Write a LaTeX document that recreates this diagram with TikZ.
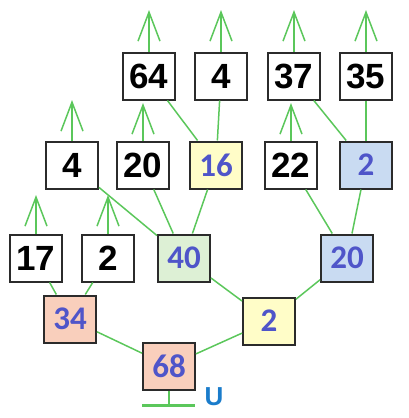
\documentclass[tikz,border=0pt]{standalone}
\usepackage{fontspec}
\usepackage{tikz}
\usetikzlibrary{arrows.meta,positioning}
\setmainfont{Liberation Sans}
\newfontfamily\numfont{Carlito}
\definecolor{linkgreen}{HTML}{5BC75B}
\definecolor{numblue}{HTML}{4F55C9}
\definecolor{ublue}{HTML}{1A7CCB}
\definecolor{boxedge}{HTML}{2B2B2B}
\definecolor{salmon}{HTML}{F9CFBC}
\definecolor{paleyellow}{HTML}{FFFDC8}
\definecolor{palegreen}{HTML}{DDF0D5}
\definecolor{paleblue}{HTML}{C9DBF2}

\begin{document}
\begin{tikzpicture}[x=1pt,y=-1pt,
    box/.style={draw=boxedge,line width=2pt,minimum width=52pt,minimum height=47pt,
      inner sep=0pt,fill=white,font=\fontsize{35}{35}\selectfont\bfseries},
    sum/.style={box,text=numblue,font=\fontsize{33}{33}\selectfont\numfont\bfseries},
    link/.style={linkgreen,line width=1.5pt},
    up/.style={link,-{Straight Barb[length=29pt,width=22pt,line width=1.5pt]}}]
  \useasboundingbox (0,0) rectangle (408,418);

  % ends of the open arrows
  \coordinate (t64) at (149,10);
  \coordinate (t4a) at (221,10);
  \coordinate (t37) at (294,10);
  \coordinate (t35) at (366,10);
  \coordinate (t4b) at (72,100);
  \coordinate (t20) at (143,103);
  \coordinate (t22) at (291,103);
  \coordinate (t17) at (36,195);
  \coordinate (t2a) at (108,195);

  % top row
  \node[box] (n64) at (149,76) {64};
  \node[box] (n4a) at (221,76) {4};
  \node[box] (n37) at (294,76) {37};
  \node[box] (n35) at (366,76) {35};

  % second row
  \node[box] (n4b) at (72,165) {4};
  \node[box] (n20) at (143,165) {20};
  \node[sum,fill=paleyellow] (n16) at (216,165) {16};
  \node[box] (n22) at (291,165) {22};
  \node[sum,fill=paleblue] (n2b) at (366,165) {2};

  % third row
  \node[box] (n17) at (36,258) {17};
  \node[box] (n2a) at (108,258) {2};
  \node[sum,fill=palegreen] (n40) at (184,258) {40};
  \node[sum,fill=paleblue] (n20b) at (347,258) {20};

  % lower rows
  \node[sum,fill=salmon] (n34) at (70,319) {34};
  \node[sum,fill=paleyellow] (n2c) at (269,321) {2};
  \node[sum,fill=salmon] (n68) at (169,366) {68};

  % ground
  \coordinate (g) at (169,405);
  \coordinate (gl) at (142,405);
  \coordinate (gr) at (195,405);
  \node[text=ublue,font=\fontsize{26}{26}\selectfont\bfseries] (u) at (214,397) {U};

  % links
  \draw[link] (n68) -- (n34);
  \draw[link] (n68) -- (n2c);
  \draw[link] (n34) -- (n17);
  \draw[link] (n34) -- (n2a);
  \draw[link] (n2c) -- (n40);
  \draw[link] (n2c) -- (n20b);
  \draw[link] (n40) -- (n4b);
  \draw[link] (n40) -- (n20);
  \draw[link] (n40) -- (n16);
  \draw[link] (n16) -- (n64);
  \draw[link] (n16) -- (n4a);
  \draw[link] (n20b) -- (n22);
  \draw[link] (n20b) -- (n2b);
  \draw[link] (n2b) -- (n37);
  \draw[link] (n2b) -- (n35);
  \foreach \n in {64,4a,37,35,4b,20,22,17,2a}
    \draw[up] (n\n) -- (t\n);
  \draw[link] (n68) -- (g);
  \draw[linkgreen,line width=3pt] (gl) -- (gr);
\end{tikzpicture}
\end{document}
